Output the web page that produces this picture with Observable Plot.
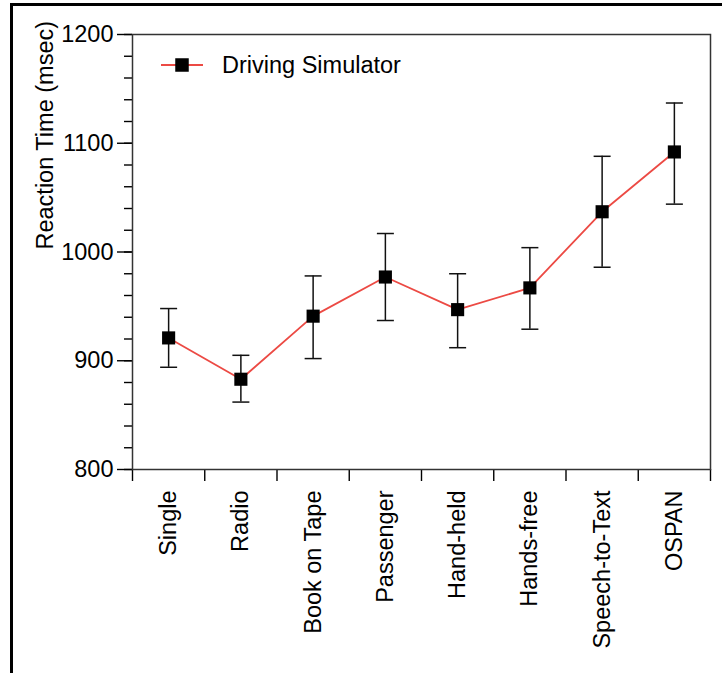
<!DOCTYPE html>
<html><head><meta charset="utf-8">
<script src="https://cdn.jsdelivr.net/npm/d3@7"></script>
<script src="https://cdn.jsdelivr.net/npm/@observablehq/plot@0.6"></script>
<style>
html,body{margin:0;padding:0;background:#fff;}
#wrap{position:relative;width:722px;height:673px;overflow:hidden;}
#border{position:absolute;left:10px;top:3px;width:800px;height:800px;border-left:3px solid #000;border-top:3px solid #000;box-sizing:border-box;pointer-events:none;}
</style></head><body>
<div id="wrap"><div id="chart"></div><div id="border"></div></div>
<script>
const categories = ["Single","Radio","Book on Tape","Passenger","Hand-held","Hands-free","Speech-to-Text","OSPAN"];
const means = [921, 883, 941, 977, 947, 967, 1037, 1092];
const lower = [894, 862, 902, 937, 912, 929, 986, 1044];
const upper = [948, 905, 978, 1017, 980, 1004, 1088, 1137];
const yTicks = [800, 900, 1000, 1100, 1200];
const yMinor = d3.range(800, 1201, 20);
const seriesName = "Driving Simulator";
const yLabel = "Reaction Time (msec)";

const data = categories.map((c, i) => ({pos: i + 0.5, c, mean: means[i], lo: lower[i], hi: upper[i]}));
const boundaries = d3.range(0, categories.length + 1);

const font = "'Liberation Sans', Arial, Helvetica, sans-serif";
const lineColor = "#ec4a44";
const capSymbol = {draw(ctx) { const w = 8.5; ctx.moveTo(-w, 0); ctx.lineTo(w, 0); }};

const chart = Plot.plot({
  width: 722, height: 673,
  marginLeft: 132, marginRight: 12, marginTop: 34, marginBottom: 204,
  style: {fontFamily: font, fontSize: "22px", color: "#000", background: "#fff", overflow: "visible"},
  x: {type: "linear", domain: [0, categories.length], label: null},
  y: {domain: [800, 1200], label: null},
  marks: [
    Plot.axisY({ticks: yMinor, tickSize: 8, tickFormat: () => "", strokeWidth: 1.4}),
    Plot.axisY({ticks: yTicks, tickSize: 15, tickPadding: 4, tickFormat: d => String(d), fontSize: 23.5, strokeWidth: 1.4}),
    Plot.axisX({ticks: boundaries, tickSize: 12, tickFormat: () => "", strokeWidth: 1.4}),
    Plot.axisX({ticks: data.map(d => d.pos), tickSize: 0, tickPadding: 21, tickRotate: -90, tickFormat: d => categories[Math.floor(d)], fontSize: 23.5}),
    Plot.text([yLabel], {text: d => d, frameAnchor: "left", rotate: -90, dx: -87, dy: -2.5, fontSize: 23.5}),
    Plot.frame({stroke: "#333", strokeWidth: 1.5}),
    Plot.ruleX(data, {x: "pos", y1: "lo", y2: "hi", stroke: "#111", strokeWidth: 1.5}),
    Plot.dot(data, {x: "pos", y: "lo", symbol: capSymbol, fill: "none", stroke: "#111", strokeWidth: 1.5}),
    Plot.dot(data, {x: "pos", y: "hi", symbol: capSymbol, fill: "none", stroke: "#111", strokeWidth: 1.5}),
    Plot.line(data, {x: "pos", y: "mean", stroke: lineColor, strokeWidth: 1.8}),
    Plot.dot(data, {x: "pos", y: "mean", symbol: "square", r: 7.4, fill: "#000", stroke: "none"})
  ]
});

// legend (inside plot, top-left)
const svg = d3.select(chart);
const lg = svg.append("g").attr("class", "legend").attr("text-anchor", "start");
lg.append("line").attr("x1", 161).attr("x2", 203).attr("y1", 65).attr("y2", 65)
  .attr("stroke", lineColor).attr("stroke-width", 1.8);
lg.append("rect").attr("x", 182 - 6.75).attr("y", 65 - 6.75).attr("width", 13.5).attr("height", 13.5).attr("fill", "#000");
lg.append("text").attr("x", 222).attr("y", 65).attr("dy", "0.35em").attr("text-anchor", "start")
  .attr("font-size", 23.5).attr("font-family", font).attr("fill", "#000").text(seriesName);

document.getElementById("chart").appendChild(chart);
</script>
</body></html>
